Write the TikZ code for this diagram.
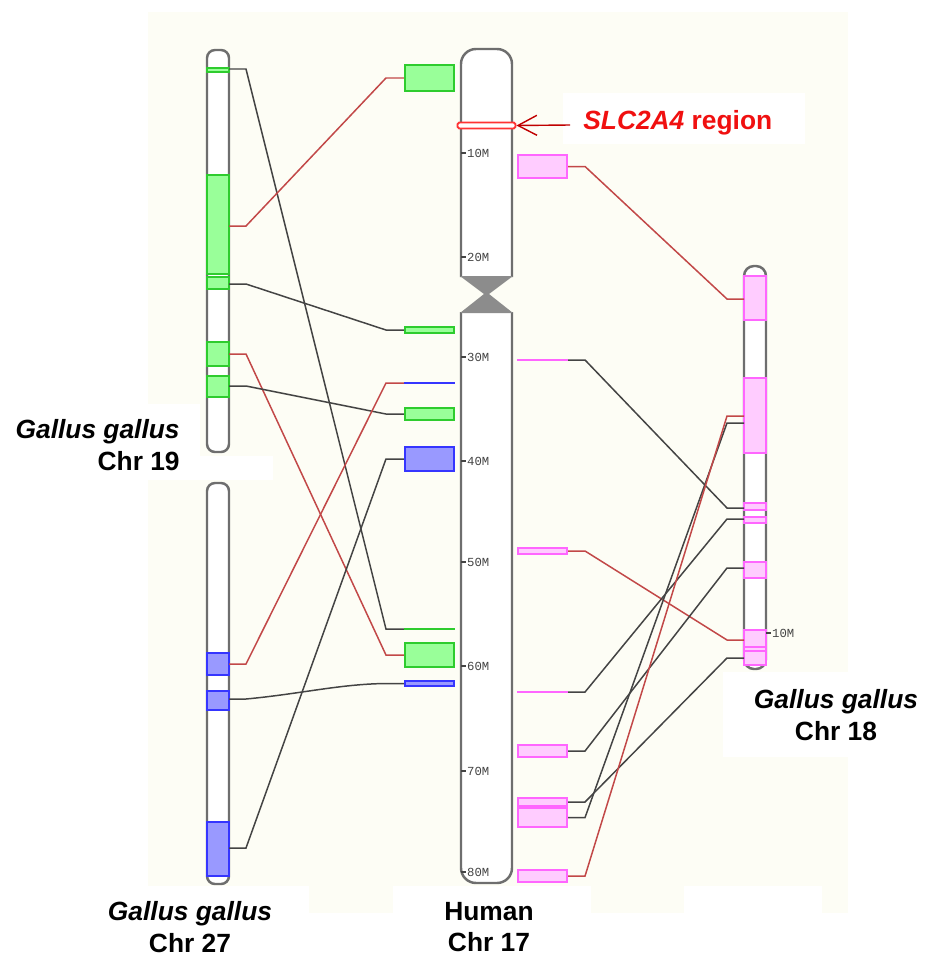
\documentclass[tikz,border=0pt]{standalone}
\usepackage{fontspec}
\setmainfont{Liberation Sans}
\newfontfamily\mbfont{Liberation Mono}
\usetikzlibrary{calc,arrows.meta}

\definecolor{cream}{HTML}{FDFDF5}
\definecolor{chromgray}{HTML}{6E6E6E}
\definecolor{cengray}{HTML}{8C8C8C}
\definecolor{linkred}{HTML}{C24848}
\definecolor{linkgray}{HTML}{444444}
\definecolor{gfill}{HTML}{99FF99}
\definecolor{gline}{HTML}{2ECC2E}
\definecolor{bfill}{HTML}{9999FF}
\definecolor{bline}{HTML}{3535FF}
\definecolor{pfill}{HTML}{FFCCFF}
\definecolor{pline}{HTML}{FF66FF}
\definecolor{slcred}{HTML}{F01010}
\definecolor{arrowred}{HTML}{C00000}

\tikzset{
  chrom/.style={draw=chromgray, line width=1.4pt, fill=white},
  gband/.style={fill=gfill, draw=gline, line width=0.9pt},
  bband/.style={fill=bfill, draw=bline, line width=0.9pt},
  pband/.style={fill=pfill, draw=pline, line width=0.9pt},
  hitbox/.style={line width=0.9pt, inner sep=0pt, minimum width=0.99cm},
  greenbox/.style={hitbox, fill=gfill, draw=gline},
  bluebox/.style={hitbox, fill=bfill, draw=bline},
  pinkbox/.style={hitbox, fill=pfill, draw=pline},
  redlink/.style={draw=linkred, line width=0.85pt},
  graylink/.style={draw=linkgray, line width=0.85pt},
  mtick/.style={draw=linkgray, line width=0.6pt},
  mlab/.style={right, inner sep=0.4pt, text=linkgray, font=\mbfont\fontsize{7}{7}\selectfont},
  lab/.style={font=\fontsize{15}{18}\selectfont\bfseries, inner sep=0pt}
}

\begin{document}
\begin{tikzpicture}[x=0.02cm, y=-0.02cm]
  %% background
  \fill[white] (0,0) rectangle (930,957);
  \fill[cream] (148,12) rectangle (848,913);
  \fill[white] (563,93) rectangle (805,144);
  \fill[white] (0,404) rectangle (200,480);
  \fill[white] (200,456) rectangle (273,480);
  \fill[white] (723,672) rectangle (930,757);
  \fill[white] (100,886) rectangle (309,957);
  \fill[white] (393,886) rectangle (591,957);
  \fill[white] (684,886) rectangle (822,957);

  %% Chr 19
  \draw[chrom, rounded corners=0.16cm] (207,50) rectangle (229,452);
  \foreach \a/\b in {68/72, 175/274, 277/289, 342/366, 376/397}
    \filldraw[gband] (207,\a) rectangle (229,\b);
  %% Chr 27
  \draw[chrom, rounded corners=0.16cm] (207,483) rectangle (229,884);
  \foreach \a/\b in {653/675, 691/710, 822/876}
    \filldraw[bband] (207,\a) rectangle (229,\b);
  %% Chr 18
  \draw[chrom, rounded corners=0.2cm] (744,266) rectangle (766,669);
  \foreach \a/\b in {276/320, 378/453, 503/510, 517/523, 562/578, 630/665}
    \filldraw[pband] (744,\a) rectangle (766,\b);
  \draw[pline, line width=0.9pt] (744,647) -- (766,647) (744,651) -- (766,651);

  %% Human Chr 17
  \draw[chrom, rounded corners=0.3cm] (461,277) -- (461,49) -- (512,49) -- (512,277);
  \draw[chrom, rounded corners=0.3cm] (512,312) -- (512,883) -- (461,883) -- (461,312);
  \fill[cengray] (460,276) -- (513,276) -- (489,294) -- (484,294) -- cycle;
  \fill[cengray] (460,313) -- (513,313) -- (489,294) -- (484,294) -- cycle;
  \foreach \y/\m in {153/10, 257/20, 357/30, 461/40, 562/50, 666/60, 771/70, 872/80}
    \draw[mtick] (461,\y) -- ++(5,0) node[mlab] (m\m) {\m M};
  \draw[mtick] (766,633) -- ++(5,0) node[mlab] (m18) {10M};

  %% SLC2A4
  \node[draw=red!80, line width=1.1pt, fill=white, rounded corners=1pt,
        minimum width=1.16cm, minimum height=0.12cm, inner sep=0pt] (slc) at (486.5,125.5) {};
  \node[lab, anchor=base west, text=slcred] (slclab) at (583,129) {\textit{SLC2A4} region};
  \coordinate (slctail) at (570,125);
  \draw[arrowred, line width=0.8pt, -{Straight Barb[length=0.38cm, width=0.4cm]}] (slctail) -- (slc.east);

  %% hit boxes
  \node[greenbox, minimum height=0.53cm] (g1) at (429.5,78) {};
  \node[greenbox, minimum height=0.13cm] (g2) at (429.5,330) {};
  \node[greenbox, minimum height=0.25cm] (g3) at (429.5,414) {};
  \node[greenbox, minimum height=0.02cm] (g4) at (429.5,629) {};
  \node[greenbox, minimum height=0.49cm] (g5) at (429.5,655) {};
  \node[bluebox, minimum height=0.02cm] (b1) at (429.5,383) {};
  \node[bluebox, minimum height=0.49cm] (b2) at (429.5,459) {};
  \node[bluebox, minimum height=0.11cm] (b3) at (429.5,683.5) {};
  \node[pinkbox, minimum height=0.47cm] (p1) at (542.5,166.5) {};
  \node[pinkbox, minimum height=0.02cm] (p2) at (542.5,360) {};
  \node[pinkbox, minimum height=0.13cm] (p3) at (542.5,551) {};
  \node[pinkbox, minimum height=0.02cm] (p4) at (542.5,692) {};
  \node[pinkbox, minimum height=0.25cm] (p5) at (542.5,751) {};
  \node[pinkbox, minimum height=0.17cm] (p6) at (542.5,802) {};
  \node[pinkbox, minimum height=0.39cm] (p7) at (542.5,817.5) {};
  \node[pinkbox, minimum height=0.25cm] (p8) at (542.5,876) {};

  %% link ends on the chicken chromosomes
  \coordinate (s19a) at (229,69);
  \coordinate (s19b) at (229,226);
  \coordinate (s19c) at (229,284);
  \coordinate (s19d) at (229,354);
  \coordinate (s19e) at (229,386);
  \coordinate (s27a) at (229,664);
  \coordinate (s27b) at (229,699);
  \coordinate (s27c) at (229,848);
  \coordinate (s18a) at (744,299);
  \coordinate (s18b) at (744,416);
  \coordinate (s18c) at (744,423);
  \coordinate (s18d) at (744,508);
  \coordinate (s18e) at (744,519);
  \coordinate (s18f) at (744,568);
  \coordinate (s18g) at (744,640);
  \coordinate (s18h) at (744,658);

  %% links, left side
  \draw[graylink] (s19a) -- ++(17,0) -- ($(g4.west)+(-18,0)$) -- (g4.west);
  \draw[redlink] (s19b) -- ++(17,0) -- ($(g1.west)+(-18,0)$) -- (g1.west);
  \draw[graylink] (s19c) -- ++(17,0) -- ($(g2.west)+(-18,0)$) -- (g2.west);
  \draw[redlink] (s19d) -- ++(17,0) -- ($(g5.west)+(-18,0)$) -- (g5.west);
  \draw[graylink] (s19e) -- ++(17,0) -- ($(g3.west)+(-18,0)$) -- (g3.west);
  \draw[redlink] (s27a) -- ++(17,0) -- ($(b1.west)+(-18,0)$) -- (b1.west);
  \draw[graylink] (s27b) -- ++(17,0) .. controls (300,694) and (340,684) .. ($(b3.west)+(-18,0)$) -- (b3.west);
  \draw[graylink] (s27c) -- ++(17,0) -- ($(b2.west)+(-18,0)$) -- (b2.west);

  %% links, right side
  \draw[redlink] (p1.east) -- ++(17,0) -- ($(s18a)+(-17,0)$) -- (s18a);
  \draw[graylink] (p2.east) -- ++(17,0) -- ($(s18d)+(-17,0)$) -- (s18d);
  \draw[redlink] (p3.east) -- ++(17,0) -- ($(s18g)+(-17,0)$) -- (s18g);
  \draw[graylink] (p4.east) -- ++(17,0) -- ($(s18e)+(-17,0)$) -- (s18e);
  \draw[graylink] (p5.east) -- ++(17,0) -- ($(s18f)+(-17,0)$) -- (s18f);
  \draw[graylink] (p6.east) -- ++(17,0) -- ($(s18h)+(-17,0)$) -- (s18h);
  \draw[graylink] (p7.east) -- ++(17,0) -- ($(s18c)+(-17,0)$) -- (s18c);
  \draw[redlink] (p8.east) -- ++(17,0) -- ($(s18b)+(-17,0)$) -- (s18b);

  %% labels
  \node[lab, align=right, anchor=east] (lab19) at (180,445) {\textit{Gallus gallus}\\Chr 19};
  \node[lab, align=center] (lab27) at (190,927) {\textit{Gallus gallus}\\Chr 27};
  \node[lab, align=center] (lab17) at (489,927) {Human\\Chr 17};
  \node[lab, align=center] (lab18) at (836,715) {\textit{Gallus gallus}\\Chr 18};
\end{tikzpicture}
\end{document}
